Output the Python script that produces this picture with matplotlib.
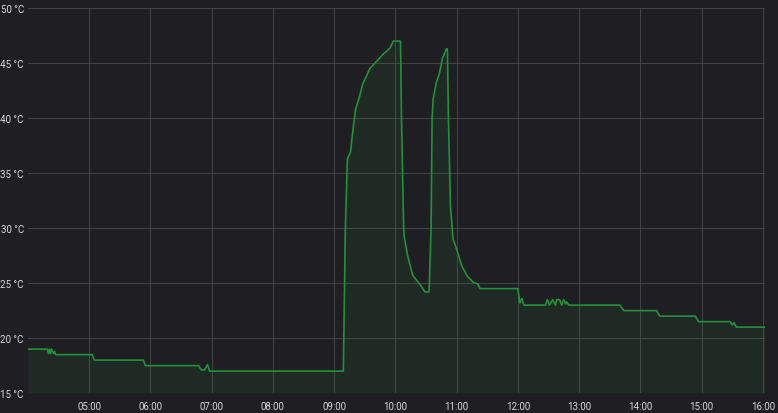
import matplotlib
matplotlib.use("Agg")
import matplotlib.pyplot as plt
import pandas as pd

plt.rcParams["font.family"] = ["Roboto", "DejaVu Sans"]

# minutes after 04:00 and temperature (°C)
minutes = [0, 19, 20, 21, 22, 23, 25, 26, 27, 63, 65,
           113, 115, 167, 170, 173, 176, 178,
           309, 311, 313, 316, 318.5, 321, 325, 328, 335, 342, 348, 355, 358, 365,
           366, 368, 368.5, 372, 377, 384, 389, 393,
           395, 396, 397, 400, 403, 406, 410, 411,
           412, 414, 416.5, 420, 425, 430, 436, 441, 443,
           480, 482, 484, 486, 507, 509, 511, 514, 517, 518, 521, 523, 525, 527, 528, 530, 532, 580,
           584, 616, 619, 654, 657, 688, 690, 692, 694, 722]
temps = [19.0, 19.0, 18.6, 19.0, 18.6, 19.0, 18.6, 18.8, 18.5, 18.5, 18.0,
         18.0, 17.5, 17.5, 17.1, 17.1, 17.6, 17.0,
         17.0, 30.0, 36.3, 36.9, 39.0, 40.8, 42.0, 43.1, 44.5, 45.2, 45.8, 46.4, 47.0, 47.0,
         40.0, 30.5, 29.3, 27.5, 25.7, 24.9, 24.2, 24.2,
         30.0, 40.0, 41.7, 43.2, 44.0, 45.4, 46.3, 46.3,
         40.0, 32.0, 29.0, 28.1, 26.6, 25.7, 25.1, 24.9, 24.5,
         24.5, 23.2, 23.6, 23.0, 23.0, 23.5, 23.0, 23.5, 23.0, 23.5, 23.5, 23.0, 23.5, 23.1, 23.3, 23.0, 23.0, 23.0,
         22.5, 22.5, 22.0, 22.0, 21.5, 21.5, 21.2, 21.4, 21.0, 21.0]

y_ticks = [15, 20, 25, 30, 35, 40, 45, 50]
x_tick_labels = ["05:00", "06:00", "07:00", "08:00", "09:00", "10:00",
                 "11:00", "12:00", "13:00", "14:00", "15:00", "16:00"]

base = pd.Timestamp("2021-01-01 04:00")
times = [base + pd.Timedelta(minutes=m) for m in minutes]

bg = "#1f1e22"
fig = plt.figure(figsize=(7.78, 4.14), dpi=100, facecolor=bg)
ax = fig.add_axes([0.036, 0.048, 0.947, 0.930], facecolor=bg)

ax.plot(times, temps, color="#22913a", lw=1.2, zorder=3)
ax.fill_between(times, temps, 15, color="#299c46", alpha=0.1, lw=0, zorder=2)

ax.set_ylim(15, 50)
ax.set_xlim(base, base + pd.Timedelta(minutes=722))
ax.set_yticks(y_ticks)
ax.set_yticklabels([f"{v} °C" for v in y_ticks])
xt = [pd.Timestamp("2021-01-01 " + s) for s in x_tick_labels]
ax.set_xticks(xt)
ax.set_xticklabels(x_tick_labels)

ax.grid(True, color="#4a4a4f", lw=0.8, alpha=0.8, zorder=1)
for s in ax.spines.values():
    s.set_visible(False)
ax.tick_params(length=0, colors="#d8d9da", labelsize=7)
ax.tick_params(axis="y", pad=3)
ax.tick_params(axis="x", pad=6)

fig.savefig("out.png", dpi=100, facecolor=bg)
